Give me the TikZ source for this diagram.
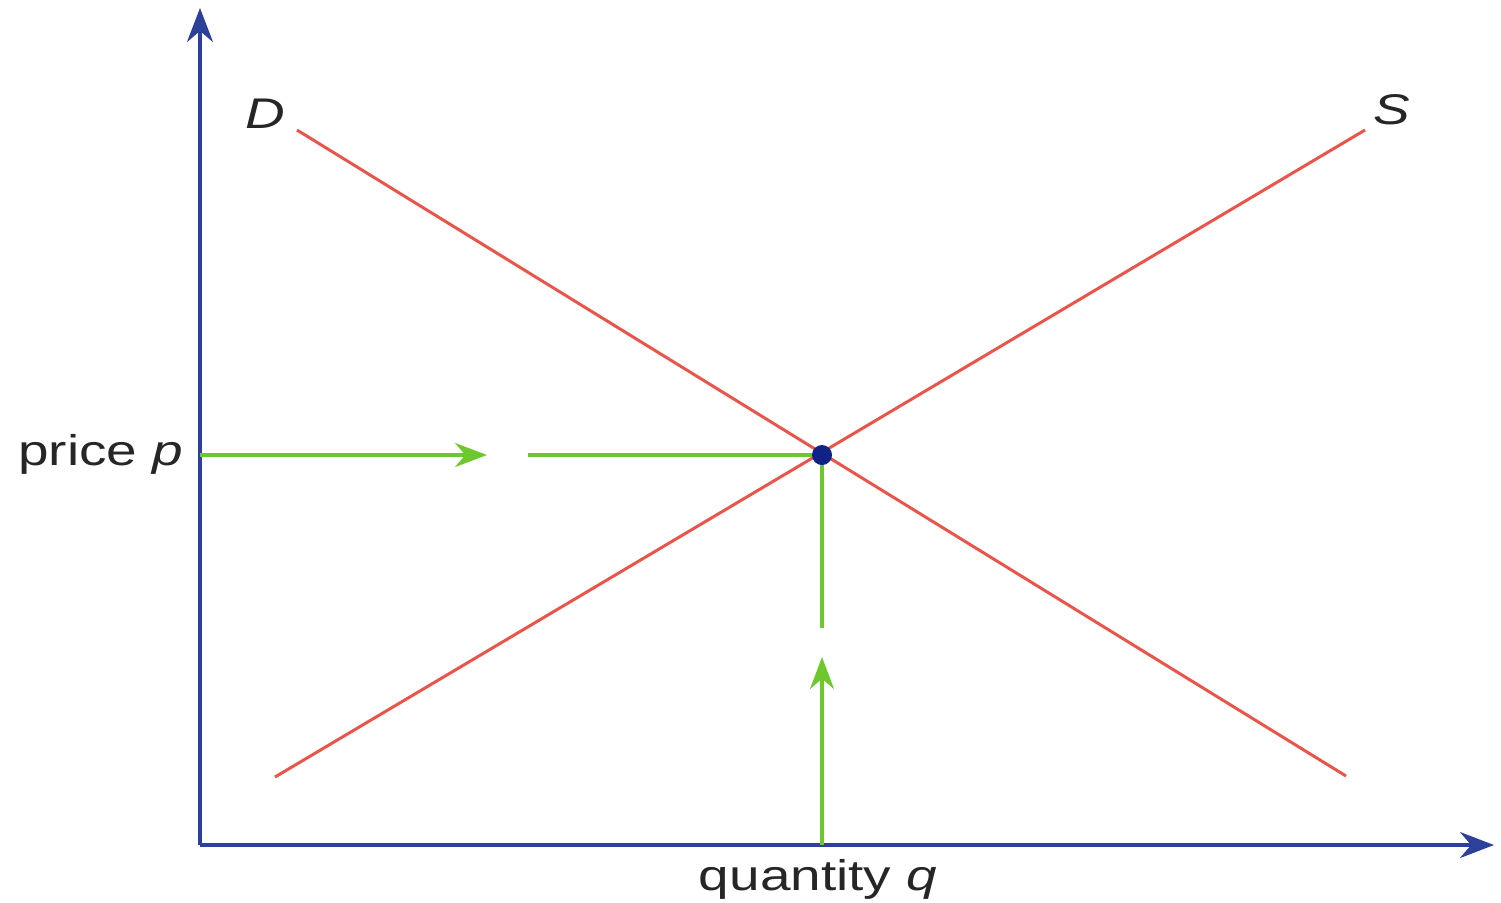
\documentclass[tikz,border=0pt]{standalone}
\usepackage{fontspec}
\setmainfont{Liberation Sans}
\usetikzlibrary{arrows.meta}
\definecolor{axisblue}{RGB}{45,65,155}
\definecolor{curvered}{RGB}{232,85,75}
\definecolor{arrgreen}{RGB}{110,200,45}
\definecolor{dotblue}{RGB}{15,35,135}
\tikzset{
  axis/.style={draw=axisblue,line width=1pt,-{Stealth[length=0.34cm,width=0.26cm]}},
  curve/.style={draw=curvered,line width=0.85pt},
  guide/.style={draw=arrgreen,line width=1pt},
  guidearrow/.style={guide,-{Stealth[length=0.32cm,width=0.24cm]}},
  lbl/.style={font=\fontsize{12.2}{14}\selectfont,xscale=1.28,text=black!85,inner sep=0pt},
}
\begin{document}
\begin{tikzpicture}[x=0.01cm,y=-0.01cm]
\useasboundingbox (0,0) rectangle (1501,902);
% coordinates
\coordinate (O) at (200,845);
\coordinate (ytop) at (200,8);
\coordinate (xend) at (1494,845);
\coordinate (d1) at (297,130);
\coordinate (d2) at (1346,776);
\coordinate (s1) at (275,777);
\coordinate (s2) at (1365,130);
\coordinate (E) at (822,455);
\coordinate (py) at (200,455);
\coordinate (ha) at (487,455);
\coordinate (hb) at (528,455);
\coordinate (qx) at (822,845);
\coordinate (va) at (822,657);
\coordinate (vb) at (822,628);
% axes
\draw[axis] (O) -- (ytop);
\draw[axis] (O) -- (xend);
% curves
\draw[curve] (d1) -- (d2);
\draw[curve] (s1) -- (s2);
% guides
\draw[guidearrow] (py) -- (ha);
\draw[guide] (hb) -- (E);
\draw[guidearrow] (qx) -- (va);
\draw[guide] (vb) -- (E);
% equilibrium point
\node[circle,fill=dotblue,inner sep=0pt,minimum size=0.2cm] (eq) at (E) {};
% labels
\node[lbl] (Dl) at (265,114) {\textit{D}};
\node[lbl] (Sl) at (1392,110) {\textit{S}};
\node[lbl,anchor=east] (pl) at (184,454) {price \textit{p}};
\node[lbl] (ql) at (818,879) {quantity \textit{q}};
\end{tikzpicture}
\end{document}
